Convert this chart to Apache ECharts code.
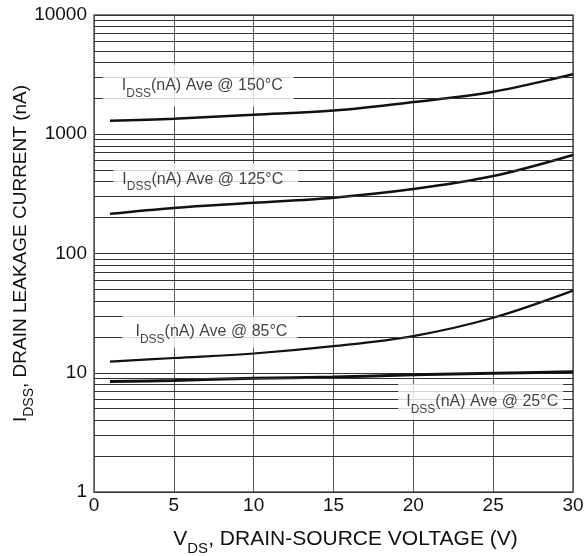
<!DOCTYPE html>
<html>
<head>
<meta charset="utf-8">
<script src="https://cdn.jsdelivr.net/npm/echarts@6/dist/echarts.min.js"></script>
<style>
html,body{margin:0;padding:0;background:#fff;}
#chart{width:584px;height:556px;}
</style>
</head>
<body>
<div id="chart"></div>
<script>
// ---- data ----
const vds = [1, 5, 10, 15, 20, 25, 30];
const idss150 = [1300, 1350, 1460, 1580, 1860, 2270, 3190];
const idss125 = [215, 241, 266, 294, 347, 446, 670];
const idss85 = [12.4, 13.3, 14.5, 16.7, 20.3, 28.9, 48.8];
const idss25 = [8.43, 8.6, 9.0, 9.2, 9.6, 9.9, 10.2];
const curveTemps = ['150°C', '125°C', '85°C', '25°C'];
const labelVds = [6.53, 7.0, 7.26, 24.22];
const labelIdss = [2560, 420, 22.1, 5.69];
const xTickStep = 5;
const yTickLabels = ['1', '10', '100', '1000', '10000'];
const gridDecades = [1, 10, 100, 1000];
const gridMultipliers = [2, 3, 4, 5, 6, 7, 8, 9];

// ---- styles ----
const FONT = "'Liberation Sans', Arial, Helvetica, sans-serif";
const INK = '#111';
const labelPaddings = [[7, 11, 7, 19], [2, 15, 2, 9], [2, 10, 2, 13], [4, 5, 4, 8]];
const curveWidths = [2.5, 2.5, 2.2, 3];

const chart = echarts.init(document.getElementById('chart'), null, {renderer: 'canvas'});

function pairs(ys) { return vds.map((x, i) => [x, ys[i]]); }

const gridValues = [];
gridDecades.forEach(d => gridMultipliers.forEach(m => gridValues.push(m * d)));

const labelRich = {
  m: {fontSize: 16, fontFamily: FONT, color: INK, lineHeight: 28, verticalAlign: 'middle'},
  s: {fontSize: 12, fontFamily: FONT, color: INK, padding: [16, 0, 0, 0], verticalAlign: 'middle'}
};

const curveData = [idss150, idss125, idss85, idss25];

const series = [];
// horizontal minor grid lines through the log scale
series.push({
  type: 'line', name: 'grid', data: [], z: 1, silent: true,
  markLine: {
    silent: true, symbol: ['none', 'none'], animation: false,
    label: {show: false},
    lineStyle: {color: '#333', width: 1, type: 'solid'},
    emphasis: {disabled: true},
    data: gridValues.map(v => ({yAxis: v}))
  }
});
curveData.forEach((ys, i) => {
  series.push({
    type: 'line', name: curveTemps[i], data: pairs(ys), z: 3,
    smooth: 0.35, showSymbol: false, symbol: 'none', silent: true,
    lineStyle: {color: INK, width: curveWidths[i]}
  });
});
series.push({
  type: 'scatter', name: 'labels', z: 10, silent: true,
  symbolSize: 1, itemStyle: {color: 'transparent'},
  data: labelVds.map((x, i) => ({
    value: [x, labelIdss[i]],
    label: {
      formatter: '{m|I}{s|DSS}{m|(nA) Ave @ ' + curveTemps[i] + '}',
      padding: labelPaddings[i]
    }
  })),
  label: {
    show: true, position: 'inside', backgroundColor: '#fff',
    rich: labelRich
  }
});

chart.setOption({
  animation: false,
  backgroundColor: '#fff',
  grid: {
    left: 94, right: 11, top: 15, bottom: 64,
    show: true, borderColor: '#555', borderWidth: 1.5,
    backgroundColor: 'transparent', outerBoundsMode: 'none', containLabel: false
  },
  xAxis: {
    type: 'value', min: 0, max: 30, interval: xTickStep,
    axisLine: {show: false}, axisTick: {show: false},
    axisLabel: {fontSize: 19, fontFamily: FONT, color: INK, margin: 4},
    splitLine: {show: true, lineStyle: {color: '#555', width: 1}},
    name: '{m|V}{s|DS}{m|, DRAIN-SOURCE VOLTAGE (V)}',
    nameLocation: 'middle', nameGap: 31, nameMoveOverlap: false,
    nameTextStyle: {
      padding: [0, 0, 0, 24],
      rich: {
        m: {fontSize: 21, fontFamily: FONT, color: INK, lineHeight: 32, verticalAlign: 'middle'},
        s: {fontSize: 15, fontFamily: FONT, color: INK, padding: [18, 0, 0, 0], verticalAlign: 'middle'}
      }
    }
  },
  yAxis: {
    type: 'log', logBase: 10, min: 1, max: 10000,
    axisLine: {show: false}, axisTick: {show: false},
    axisLabel: {
      fontSize: 19, fontFamily: FONT, color: INK, margin: 7,
      formatter: v => yTickLabels[Math.round(Math.log10(v))] || String(Math.round(v))
    },
    splitLine: {show: true, lineStyle: {color: '#333', width: 1}},
    minorSplitLine: {show: false},
    name: '{m|I}{s|DSS}{m|, DRAIN LEAKAGE CURRENT (nA)}',
    nameLocation: 'middle', nameRotate: 90, nameGap: 57, nameMoveOverlap: false,
    nameTextStyle: {
      rich: {
        m: {fontSize: 19, fontFamily: FONT, color: INK, lineHeight: 32, verticalAlign: 'middle'},
        s: {fontSize: 14, fontFamily: FONT, color: INK, padding: [17, 0, 0, 0], verticalAlign: 'middle'}
      }
    }
  },
  series: series
});
</script>
</body>
</html>
